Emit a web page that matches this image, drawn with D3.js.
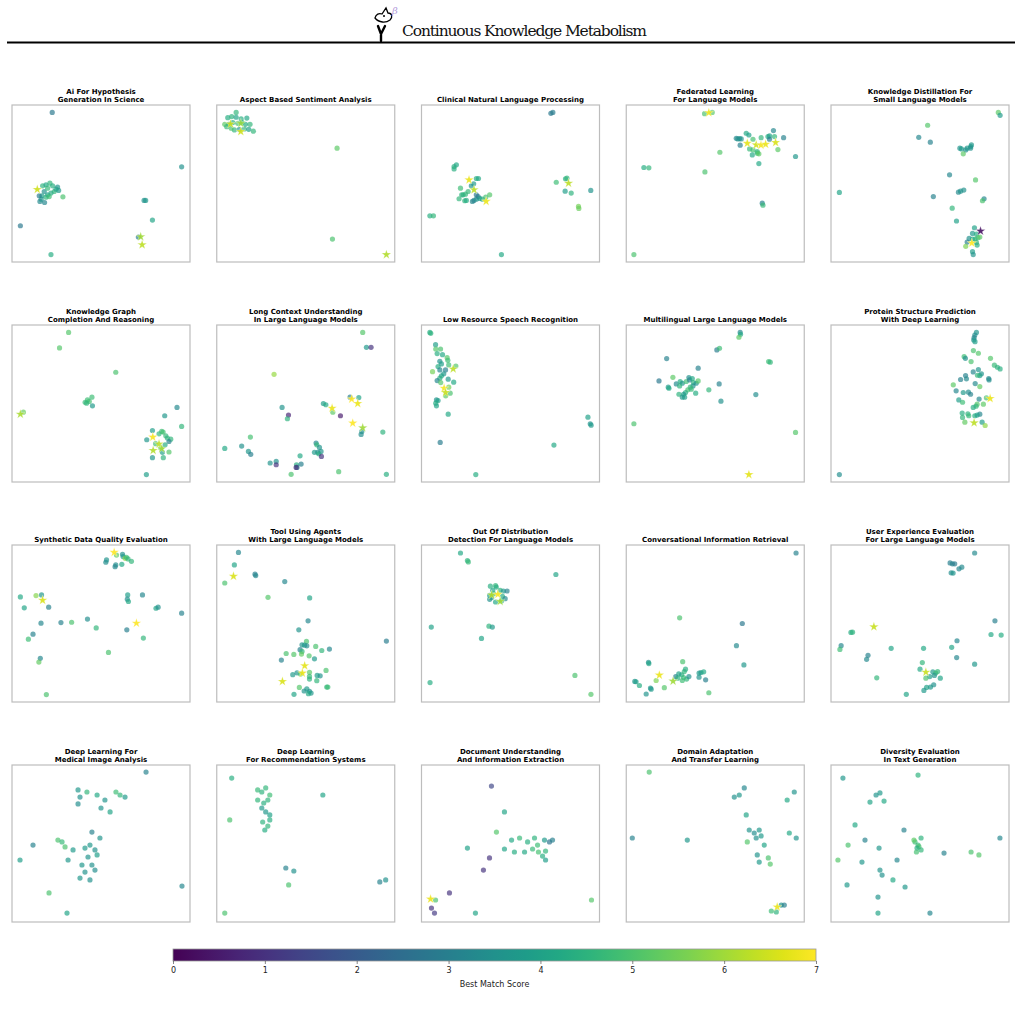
<!DOCTYPE html>
<html>
<head>
<meta charset="utf-8">
<script src="https://cdn.jsdelivr.net/npm/d3@7"></script>
<style>
  body { margin: 0; background: #fff; }
  svg { display: block; }
</style>
</head>
<body>
<div id="chart"></div>
<script>
// panel titles (row by row)
var titles = [
  "Ai For Hypothesis\nGeneration In Science",
  "Aspect Based Sentiment Analysis",
  "Clinical Natural Language Processing",
  "Federated Learning\nFor Language Models",
  "Knowledge Distillation For\nSmall Language Models",
  "Knowledge Graph\nCompletion And Reasoning",
  "Long Context Understanding\nIn Large Language Models",
  "Low Resource Speech Recognition",
  "Multilingual Large Language Models",
  "Protein Structure Prediction\nWith Deep Learning",
  "Synthetic Data Quality Evaluation",
  "Tool Using Agents\nWith Large Language Models",
  "Out Of Distribution\nDetection For Language Models",
  "Conversational Information Retrieval",
  "User Experience Evaluation\nFor Large Language Models",
  "Deep Learning For\nMedical Image Analysis",
  "Deep Learning\nFor Recommendation Systems",
  "Document Understanding\nAnd Information Extraction",
  "Domain Adaptation\nAnd Transfer Learning",
  "Diversity Evaluation\nIn Text Generation"
];

// points: [x, y, best match score, star flag]
var p01 = [[22.6,95.3,2.8],[95.3,60.6,3.5],[17.2,48.5,4.5],[19.1,49.2,4.2],[21.3,50.2,4.6],[22.8,48.5,4.4],[25.6,47.7,3.6],[26.2,45.6,3.8],[23.7,44.9,4.6],[21.9,43.9,4.3],[20.0,42.8,4.0],[18.1,44.9,3.5],[16.8,42.2,3.9],[19.1,41.3,4.5],[20.9,41.7,4.8],[15.3,42.2,2.9],[15.7,38.6,3.3],[18.3,37.9,3.2],[16.4,40.0,3.6],[28.6,41.5,5.0],[24.7,46.4,4.1],[20.0,47.0,4.7],[14.2,46.2,6.5,1],[74.2,39.2,3.5],[75.1,39.2,3.7],[78.9,26.7,4.1],[4.7,23.1,2.8],[71.0,15.9,3.0],[72.3,16.1,6.0,1],[73.1,11.0,6.3,1],[21.9,4.7,4.3]];
var p02 = [[10.9,95.3,4.6],[6.2,91.9,4.3],[8.4,92.6,4.5],[10.9,92.2,4.1],[13.7,91.1,4.4],[16.9,91.7,4.2],[18.7,87.7,4.6],[16.1,87.7,4.3],[14.2,88.8,4.8],[11.8,88.3,5.0],[9.0,88.8,4.4],[6.7,87.7,4.1],[4.5,87.7,5.2],[5.6,86.2,4.7],[9.9,84.1,4.6],[12.7,84.5,3.6],[15.5,84.7,4.5],[18.0,84.5,4.0],[20.6,83.3,4.6],[8.1,85.2,5.0],[7.7,87.9,6.4,1],[13.5,88.3,5.9,1],[13.5,83.1,6.5,1],[67.6,72.5,5.2],[65.0,14.6,5.0],[95.3,4.7,6.2,1]];
var p03 = [[72.7,94.7,2.8],[73.8,95.3,2.9],[18.3,60.8,4.4],[19.6,61.9,4.2],[18.3,59.3,4.4],[30.8,53.2,4.3],[32.0,53.2,4.2],[26.7,52.3,6.8,1],[29.3,49.8,3.8],[28.0,48.5,3.6],[21.9,47.0,4.8],[29.5,46.0,6.3,1],[23.4,42.8,4.4],[24.7,43.2,4.6],[22.6,42.8,4.5],[26.2,44.9,4.7],[21.1,40.3,4.6],[24.3,39.0,4.5],[25.2,39.2,4.3],[28.6,38.6,3.2],[29.5,39.2,3.1],[30.8,40.0,3.6],[31.8,41.7,2.9],[32.7,40.5,3.8],[34.2,40.0,4.3],[30.8,42.8,2.8],[36.1,41.3,4.9],[38.3,42.8,5.1],[36.3,38.6,6.8,1],[75.7,50.8,4.8],[80.9,53.0,4.4],[81.7,53.4,4.6],[82.6,50.2,6.3,1],[80.7,45.1,3.9],[84.1,43.9,4.5],[95.1,45.6,3.6],[88.2,35.4,5.5],[88.4,34.1,5.4],[4.7,29.4,4.4],[6.7,29.4,4.6],[44.9,4.7,4.2]];
var p04 = [[44.0,94.5,5.0],[46.4,95.1,6.8,1],[48.3,95.3,5.2],[61.8,78.8,3.3],[62.7,78.4,3.5],[63.7,78.6,3.4],[64.6,78.4,3.6],[67.4,82.0,4.2],[68.9,80.9,4.0],[64.0,74.4,3.0],[71.2,78.2,4.9],[75.8,79.2,4.6],[79.6,79.9,4.3],[80.5,80.3,4.0],[82.7,83.7,3.2],[83.3,79.9,4.6],[80.5,78.2,2.9],[88.4,79.2,3.1],[69.3,72.0,4.7],[71.2,71.4,4.9],[73.6,70.3,4.5],[73.6,69.3,4.8],[70.8,68.2,4.2],[74.5,68.9,5.2],[85.2,71.6,5.2],[68.0,75.6,6.7,1],[73.0,74.6,6.5,1],[75.7,74.4,6.9,1],[78.3,75.0,6.8,1],[83.9,76.1,6.6,1],[74.5,62.7,4.2],[95.1,67.2,3.7],[52.6,69.9,5.1],[9.9,60.2,4.3],[12.7,60.0,4.6],[44.2,57.4,5.0],[76.4,37.5,3.0],[76.8,36.2,4.7],[4.3,4.7,5.0]];
var p05 = [[94.0,95.3,5.2],[95.0,93.4,3.8],[54.3,87.1,5.1],[49.3,79.4,3.2],[55.8,76.3,3.1],[72.4,72.5,3.6],[73.3,72.0,3.8],[75.7,71.4,3.5],[76.5,72.5,3.7],[78.5,73.5,3.9],[78.9,74.6,3.7],[78.4,72.5,3.5],[74.3,68.9,5.2],[66.6,55.5,3.2],[81.2,52.3,5.1],[71.6,44.5,3.3],[72.8,45.1,3.6],[74.6,45.8,3.5],[57.5,41.7,3.1],[4.7,44.3,4.1],[86.0,40.3,3.2],[85.1,39.0,5.0],[68.1,34.3,4.6],[70.5,26.1,4.0],[80.6,21.8,4.0],[79.5,18.2,3.8],[81.7,17.8,4.3],[84.0,19.7,0.3,1],[77.6,15.0,3.5],[79.5,14.6,4.2],[81.0,14.6,4.5],[82.5,15.5,4.8],[83.6,15.9,5.2],[79.1,12.1,7.0,1],[76.5,12.7,3.0],[81.7,12.5,4.7],[82.1,10.8,4.4],[75.7,10.0,5.6],[79.5,6.6,3.9],[79.9,4.7,3.6]];
var p06 = [[31.8,95.3,5.1],[26.7,85.4,5.1],[58.3,69.9,5.0],[41.1,50.8,4.7],[42.4,52.3,4.8],[43.4,51.3,4.9],[44.9,54.0,4.8],[45.2,48.5,3.8],[41.9,50.2,4.6],[4.7,43.2,6.1,1],[6.4,44.5,5.4],[92.7,47.5,3.3],[85.8,42.2,3.7],[95.3,35.4,4.6],[78.9,32.8,3.9],[75.7,26.9,3.7],[82.6,30.7,4.6],[84.1,32.2,4.8],[84.9,31.8,4.9],[86.4,29.4,4.7],[87.3,28.0,4.5],[89.2,27.3,4.6],[88.2,25.8,3.1],[86.0,23.7,4.3],[80.7,24.4,4.9],[83.6,21.6,5.3],[84.5,18.9,4.0],[88.2,19.1,5.1],[78.9,15.5,3.7],[85.0,15.5,4.5],[79.1,28.6,6.9,1],[82.6,24.2,6.3,1],[79.3,20.1,6.2,1],[84.1,21.2,6.0,1],[75.5,4.7,3.9]];
var p07 = [[82.0,95.3,5.1],[84.1,85.8,3.8],[86.7,85.8,1.0],[32.2,68.6,5.9],[36.7,47.5,3.6],[40.3,42.6,0.7],[39.7,40.3,4.5],[59.9,50.0,3.9],[61.3,49.2,4.2],[64.8,47.0,6.8,1],[65.2,44.5,5.2],[69.5,42.2,0.5],[74.9,54.0,3.0],[75.8,52.8,7.0,1],[79.8,53.8,4.1],[79.2,50.0,6.8,1],[76.4,37.5,7.0,1],[82.0,34.5,6.0,1],[81.5,32.2,3.6],[81.1,30.3,3.4],[93.3,31.8,4.5],[18.9,28.6,4.9],[4.5,21.4,4.2],[14.0,22.9,3.5],[17.8,19.5,3.7],[19.1,17.6,3.0],[55.8,24.8,3.2],[56.2,23.7,4.6],[57.7,22.0,3.6],[58.6,19.5,3.6],[56.7,18.9,3.3],[54.9,18.9,3.8],[57.3,18.0,4.4],[58.8,16.3,1.0],[46.8,16.7,4.2],[30.0,12.1,3.6],[33.4,13.1,3.5],[33.4,11.0,1.0],[44.8,11.0,4.4],[45.1,9.3,2.8],[44.6,9.3,0.9],[47.4,11.4,3.0],[41.8,4.9,5.0],[68.5,6.6,5.0],[95.3,4.9,4.4]];
var p08 = [[4.7,95.3,4.3],[5.2,94.7,4.5],[7.9,87.5,3.9],[8.0,84.7,5.1],[10.7,84.7,5.0],[8.8,81.8,4.4],[11.8,81.1,4.2],[14.4,79.2,5.1],[14.8,77.5,4.8],[10.3,76.9,3.6],[11.2,75.2,3.9],[9.3,73.5,4.3],[15.3,74.6,4.8],[19.3,73.9,5.1],[6.2,70.3,5.5],[10.3,71.4,3.2],[13.5,71.4,3.0],[17.8,72.0,6.3,1],[12.5,68.9,3.7],[11.2,67.6,4.1],[10.3,66.1,4.4],[8.8,64.6,3.2],[10.8,63.3,5.1],[15.0,65.5,3.8],[18.1,63.6,4.2],[12.7,59.7,6.9,1],[15.3,60.4,5.5],[13.5,57.0,6.4,1],[13.6,54.9,5.3],[16.1,56.6,5.0],[8.4,52.3,3.6],[9.3,51.9,3.9],[8.0,50.2,4.3],[8.4,48.5,4.1],[15.0,43.2,4.2],[10.5,25.2,2.9],[93.5,41.3,4.0],[94.8,37.1,3.6],[95.3,36.2,3.8],[74.4,23.5,4.2],[30.5,4.7,4.3]];
var p09 = [[64.0,95.3,3.2],[64.2,94.1,4.2],[63.3,92.2,5.2],[50.9,84.1,2.9],[52.4,85.2,4.8],[22.7,78.6,3.1],[80.0,76.7,4.8],[80.9,76.3,4.6],[40.4,72.5,3.1],[18.4,64.4,2.8],[26.2,66.7,5.2],[23.6,60.4,3.8],[24.0,59.7,4.2],[28.1,62.5,3.3],[30.3,64.0,4.3],[31.5,62.9,3.7],[33.7,64.0,4.8],[35.2,66.5,3.5],[35.6,65.0,3.0],[37.1,65.9,4.2],[37.8,63.3,4.5],[39.3,62.9,3.6],[40.4,64.4,5.1],[37.5,61.2,3.5],[36.0,60.4,4.6],[34.6,58.7,4.9],[33.3,57.0,4.3],[32.2,55.9,3.8],[29.6,55.9,4.5],[31.5,54.0,3.7],[32.8,54.0,3.9],[39.0,56.6,4.3],[36.5,59.1,4.7],[30.0,61.2,4.5],[46.4,58.7,4.6],[52.2,62.5,3.1],[53.2,51.5,3.5],[72.8,55.7,3.4],[4.3,37.1,5.0],[95.1,31.6,5.1],[68.9,4.7,6.7,1]];
var p10 = [[81.7,95.3,3.6],[80.8,93.6,3.4],[80.4,91.9,3.2],[80.2,90.5,3.6],[80.9,89.4,3.9],[80.0,83.7,5.0],[82.8,82.0,5.1],[74.8,79.9,4.8],[75.5,78.8,3.5],[78.7,76.7,5.0],[89.6,78.8,5.1],[91.8,74.4,4.7],[93.5,73.1,4.5],[95.0,72.0,4.4],[82.8,71.6,3.6],[79.9,70.1,3.2],[84.5,68.9,3.6],[83.6,67.8,3.9],[82.3,68.0,4.6],[75.6,67.8,3.1],[72.8,65.3,3.1],[76.1,65.7,3.3],[81.0,62.7,3.3],[88.6,65.9,3.2],[88.8,65.0,3.4],[68.7,61.9,5.2],[83.6,60.8,5.3],[70.3,58.1,3.2],[74.3,57.0,3.8],[77.2,57.2,3.4],[78.4,55.9,3.1],[71.8,52.3,3.9],[73.9,50.8,4.8],[83.2,52.8,3.2],[87.3,53.6,5.0],[89.4,53.2,6.8,1],[82.1,49.6,5.1],[81.5,48.3,4.6],[79.9,47.5,4.3],[85.6,49.6,5.2],[73.7,43.9,4.4],[76.9,43.4,4.5],[77.4,42.2,4.7],[73.9,41.1,4.6],[80.8,42.2,4.3],[83.6,43.2,3.2],[82.1,42.6,4.0],[75.2,38.1,5.3],[80.4,37.7,6.3,1],[84.9,38.1,3.9],[86.6,36.0,5.8],[4.7,4.7,3.4]];
var p11 = [[57.4,95.3,7.0,1],[58.7,93.6,5.3],[62.1,94.1,3.5],[62.4,92.6,3.8],[63.6,91.5,5.8],[64.3,92.2,4.8],[65.2,91.1,4.6],[67.1,89.6,4.6],[53.1,90.5,3.6],[52.7,89.0,3.4],[58.3,87.3,3.4],[57.9,86.2,3.2],[61.7,87.7,4.2],[4.7,66.9,4.2],[6.9,60.0,4.1],[13.5,67.8,5.7],[16.6,68.2,3.7],[17.2,64.8,6.6,1],[20.6,60.4,3.1],[16.3,50.2,3.2],[27.5,50.6,3.1],[33.5,50.8,5.0],[42.4,52.8,3.4],[47.3,47.2,4.6],[65.0,68.2,3.9],[64.8,65.5,3.4],[65.4,64.0,4.2],[73.3,68.2,3.2],[80.9,59.7,4.1],[82.1,60.4,3.5],[95.3,56.6,3.1],[69.9,50.2,7.0,1],[64.5,46.0,3.0],[73.8,40.7,4.6],[11.8,43.2,3.1],[9.2,40.0,4.8],[15.9,27.8,3.2],[15.1,25.4,5.3],[54.2,31.6,5.0],[19.3,4.7,5.0]];
var p12 = [[12.2,95.3,3.2],[9.9,87.3,4.1],[9.4,80.1,6.6,1],[4.5,75.8,5.0],[21.5,81.4,3.0],[21.9,80.5,3.2],[38.2,76.7,3.2],[28.8,66.7,5.1],[52.2,66.3,4.1],[51.3,51.7,3.2],[46.1,46.0,3.6],[95.3,38.8,2.9],[50.4,38.6,5.0],[47.9,36.4,3.6],[49.3,36.2,3.8],[46.8,33.3,3.1],[47.9,32.2,4.6],[50.6,35.8,3.4],[55.6,35.4,5.0],[59.0,32.8,4.6],[63.3,33.7,3.2],[39.0,30.9,5.0],[43.3,30.3,5.1],[47.6,30.5,5.3],[51.9,29.4,5.1],[54.9,27.5,3.8],[36.3,26.7,3.1],[42.7,17.4,3.8],[45.1,18.6,3.6],[47.0,17.8,5.0],[52.1,18.9,5.2],[52.1,16.3,4.7],[52.1,14.6,4.5],[56.4,16.9,3.9],[58.1,16.7,3.6],[61.4,20.1,5.0],[56.2,13.6,4.6],[46.4,9.3,5.1],[49.1,7.0,3.6],[50.6,8.3,3.8],[52.1,6.8,3.5],[53.0,5.7,3.7],[51.5,5.3,4.2],[61.8,9.5,4.6],[62.4,9.5,4.8],[43.4,4.9,4.1],[49.4,23.1,6.7,1],[48.1,18.4,6.8,1],[36.9,13.1,6.6,1]];
var p13 = [[21.9,94.9,4.2],[25.8,90.1,4.5],[26.3,89.2,4.7],[75.5,81.2,4.1],[38.7,73.8,4.4],[41.6,74.1,4.6],[42.0,73.2,4.3],[40.0,71.1,4.1],[44.2,71.1,4.5],[46.0,70.7,3.8],[48.1,70.7,3.1],[38.3,67.9,4.0],[40.5,69.0,4.7],[45.5,67.3,4.4],[47.0,65.8,3.3],[38.3,65.4,3.5],[41.6,63.7,4.2],[44.9,64.3,4.6],[39.4,66.5,3.7],[39.4,68.1,6.2,1],[42.9,68.6,6.9,1],[44.2,64.1,6.0,1],[5.5,47.7,4.0],[37.9,48.3,4.5],[39.8,47.7,3.8],[33.7,40.5,4.1],[4.8,12.4,4.3],[86.2,16.9,5.0],[95.2,4.9,5.1]];
var p14 = [[95.4,94.9,3.1],[30.0,53.6,5.0],[65.2,50.0,2.8],[61.9,35.9,3.3],[66.1,23.6,3.7],[12.5,25.3,3.5],[12.7,24.5,4.1],[31.7,25.7,5.0],[4.8,13.1,3.7],[5.5,12.9,3.9],[7.4,10.5,4.3],[13.6,8.9,3.6],[14.0,8.2,3.8],[11.2,5.1,3.6],[21.4,9.1,5.1],[46.4,5.9,5.0],[44.6,14.1,3.0],[31.1,17.3,4.4],[32.6,19.4,4.6],[33.3,20.9,4.4],[27.8,16.2,3.1],[29.5,17.9,4.0],[32.2,15.6,4.7],[33.9,14.6,4.6],[35.2,16.2,3.5],[31.5,13.7,4.8],[28.9,15.2,4.5],[40.9,15.8,3.6],[42.0,18.8,4.0],[43.5,19.2,4.2],[40.9,18.4,3.8],[18.6,17.1,6.8,1],[16.8,13.7,5.6],[26.3,13.3,6.0,1]];
var p15 = [[80.7,94.9,3.3],[66.9,88.6,3.0],[68.2,88.0,3.1],[69.5,88.0,2.9],[73.5,85.9,3.3],[71.9,84.8,3.2],[67.5,82.3,3.4],[68.6,82.1,3.6],[92.1,51.7,3.0],[89.9,43.0,4.2],[95.6,42.6,4.3],[24.1,47.9,6.4,1],[11.2,44.3,4.3],[12.1,44.5,4.5],[5.7,35.9,3.2],[5.0,33.5,4.8],[33.8,34.2,4.1],[20.8,29.7,3.1],[20.0,27.2,3.3],[25.7,15.4,4.6],[52.0,34.2,4.2],[67.8,34.8,4.1],[70.8,39.0,3.2],[70.6,28.3,3.2],[80.7,24.1,3.7],[51.3,25.1,4.6],[50.0,20.9,4.2],[57.2,19.2,3.8],[58.8,18.4,4.8],[59.9,19.4,4.6],[58.1,16.9,3.6],[55.5,16.2,3.9],[53.3,15.2,5.0],[61.4,15.2,4.1],[57.7,11.0,3.5],[55.9,9.5,3.7],[53.7,9.3,4.0],[52.2,7.4,3.8],[42.3,4.9,4.1],[53.3,19.0,6.4,1]];
var p16 = [[75.3,95.5,3.1],[37.1,84.1,3.7],[38.2,79.6,3.5],[37.1,75.2,3.4],[42.1,82.8,4.6],[47.8,80.9,4.2],[52.2,77.7,3.6],[58.4,82.8,4.8],[60.7,80.9,4.6],[63.5,79.6,3.8],[50.0,72.6,3.6],[55.1,70.1,4.1],[44.9,57.3,3.1],[49.4,53.5,3.6],[43.8,49.0,3.7],[46.6,45.9,3.5],[41.0,47.1,3.8],[42.7,41.4,3.6],[47.8,42.7,3.9],[44.9,36.3,3.5],[39.3,36.3,3.7],[41.0,31.8,3.6],[46.6,33.1,3.4],[38.2,28.0,3.7],[43.8,26.8,3.5],[25.8,52.2,5.0],[28.1,51.0,4.7],[29.8,47.8,5.0],[34.3,45.9,3.8],[31.5,39.5,3.7],[11.8,49.0,3.1],[4.5,39.5,3.9],[20.8,18.5,5.0],[30.9,5.7,4.1],[95.5,22.9,3.2]];
var p17 = [[8.4,91.7,4.4],[23.0,84.1,4.7],[25.3,82.8,4.5],[27.5,85.4,4.6],[29.8,80.9,4.8],[23.0,77.7,4.6],[26.4,75.8,4.4],[28.7,77.7,4.5],[25.3,72.6,3.8],[27.5,70.1,3.7],[29.8,68.2,4.0],[25.8,63.7,4.5],[28.7,61.1,4.6],[29.8,65.0,4.4],[27.0,58.6,4.3],[59.6,80.9,4.1],[7.3,65.0,5.0],[38.8,34.4,3.1],[43.3,32.5,3.5],[40.4,23.6,5.0],[91.6,25.5,3.1],[94.9,26.8,3.5],[4.5,5.7,5.0]];
var p18 = [[39.3,86.6,1.5],[46.6,70.1,4.1],[42.1,57.3,5.1],[50.6,52.2,4.2],[55.1,53.5,4.7],[59.6,51.0,4.4],[63.5,53.5,4.5],[65.2,49.0,4.8],[69.1,52.2,3.8],[71.9,51.0,2.6],[73.6,52.2,3.0],[62.4,46.5,4.7],[65.7,44.6,4.9],[68.0,42.0,4.4],[69.7,45.2,4.6],[46.6,46.5,4.1],[52.2,44.6,4.3],[57.9,44.6,4.2],[38.2,40.8,1.0],[34.8,33.1,1.0],[69.7,39.5,3.9],[25.8,47.1,4.0],[15.7,18.5,1.0],[7.9,14.0,5.0],[5.6,8.9,1.0],[7.3,5.7,1.2],[5.1,14.6,6.8,1],[30.3,5.7,4.1],[95.5,14.0,5.1]];
var p19 = [[12.9,95.5,5.0],[60.7,79.6,3.5],[63.5,80.9,3.7],[66.3,85.4,3.2],[94.4,82.8,3.6],[90.4,77.7,4.2],[67.4,68.2,4.1],[69.1,58.6,3.6],[71.9,56.7,3.4],[74.7,58.6,3.7],[73.0,53.5,3.5],[75.8,54.8,3.8],[68.0,51.0,5.1],[77.5,49.0,4.1],[73.6,42.7,3.6],[74.7,38.2,3.8],[79.8,40.8,5.0],[80.9,36.9,5.1],[91.6,56.7,4.2],[95.5,53.5,3.6],[34.3,52.2,3.7],[3.4,53.5,3.1],[84.8,9.6,6.8,1],[87.1,10.8,3.6],[84.3,6.4,4.5],[81.5,7.0,4.8],[88.8,10.8,3.0]];
var p20 = [[6.7,91.7,3.7],[48.9,93.6,4.5],[25.3,80.9,3.6],[27.5,82.2,3.8],[21.9,76.4,4.1],[29.8,77.0,4.2],[13.5,61.8,4.2],[9.6,49.0,5.0],[3.9,39.5,5.1],[19.1,52.2,3.1],[27.0,47.1,3.7],[41.0,58.6,3.1],[47.2,51.0,4.8],[48.9,49.0,4.7],[49.4,48.0,5.0],[48.3,47.1,4.4],[50.6,45.9,4.6],[48.0,44.6,4.9],[46.6,52.2,5.2],[50.6,53.5,4.5],[63.5,43.9,3.1],[78.7,44.6,5.0],[83.1,42.7,5.1],[94.9,53.5,3.2],[17.4,38.2,3.7],[27.5,33.1,3.6],[28.7,29.9,3.5],[37.1,39.5,3.2],[9.0,23.6,3.8],[34.8,26.8,4.2],[41.6,22.3,3.7],[26.4,15.9,3.6],[26.4,5.7,4.1],[55.6,5.7,3.2]];

var panels = [p01,p02,p03,p04,p05,p06,p07,p08,p09,p10,p11,p12,p13,p14,p15,p16,p17,p18,p19,p20];
var cbTicks = [0, 1, 2, 3, 4, 5, 6, 7];

var W = 1022, H = 1022;
var svg = d3.select("#chart").append("svg")
    .attr("width", W)
    .attr("height", H)
    .style("font-family", "'DejaVu Sans', sans-serif");

// header: little bird logo + title
var logo = svg.append("g").attr("transform", "translate(373,4)");
logo.append("path")
    .attr("d", "M5,22 L8,30 L8,37 M8,30 L12,22")
    .attr("fill", "none").attr("stroke", "#000").attr("stroke-width", 2.4)
    .attr("stroke-linecap", "round");
logo.append("path")
    .attr("d", "M2,14 C3,10 6,9 9,10 L13,4 L15,9 C19,9 20,13 17,16 C13,19 6,19 2,14 Z")
    .attr("fill", "none").attr("stroke", "#000").attr("stroke-width", 1.3);
logo.append("circle").attr("cx", 11).attr("cy", 12).attr("r", 1).attr("fill", "#000");
logo.append("text")
    .attr("x", 19).attr("y", 10)
    .style("font-family", "'DejaVu Serif', serif")
    .style("font-style", "italic")
    .style("font-size", "10px")
    .attr("fill", "#b39ddb")
    .text("β");

svg.append("text")
    .attr("x", 402)
    .attr("y", 36)
    .style("font-family", "'DejaVu Serif', serif")
    .style("font-size", "15.5px")
    .attr("textLength", 245)
    .attr("fill", "#111")
    .text("Continuous Knowledge Metabolism");

svg.append("line")
    .attr("x1", 7).attr("x2", 1015)
    .attr("y1", 42.5).attr("y2", 42.5)
    .attr("stroke", "#000").attr("stroke-width", 2);

// grid of panels
var colScale = d3.scaleLinear().domain([0, 4]).range([12, 831]);
var rowScale = d3.scaleLinear().domain([0, 3]).range([105, 765]);
var pw = 178, ph = 157;

var color = function(s) { return d3.interpolateViridis(s / 7); };
var star = d3.symbol().type(d3.symbolStar).size(28);

panels.forEach(function(data, i) {
  var left = colScale(i % 5), top = rowScale(Math.floor(i / 5));
  var x = d3.scaleLinear().domain([0, 100]).range([left, left + pw]);
  var y = d3.scaleLinear().domain([0, 100]).range([top + ph, top]);
  var g = svg.append("g");

  g.append("rect")
      .attr("x", left).attr("y", top)
      .attr("width", pw).attr("height", ph)
      .attr("fill", "none").attr("stroke", "#bdbdbd").attr("stroke-width", 1.2);

  var lines = titles[i].split("\n");
  var t = g.append("text")
      .attr("text-anchor", "middle")
      .style("font-size", "7px")
      .style("font-weight", "bold")
      .attr("fill", "#000");
  lines.forEach(function(l, k) {
    t.append("tspan")
        .attr("x", left + pw / 2)
        .attr("y", top - 3 - (lines.length - 1 - k) * 8)
        .text(l);
  });

  g.selectAll("circle.pt")
    .data(data.filter(function(d) { return !d[3]; }))
    .enter()
    .append("circle")
      .attr("class", "pt")
      .attr("cx", function(d) { return x(d[0]); })
      .attr("cy", function(d) { return y(d[1]); })
      .attr("r", 2.6)
      .attr("fill", function(d) { return color(d[2]); })
      .style("opacity", 0.68);

  g.selectAll("path.star")
    .data(data.filter(function(d) { return d[3]; }))
    .enter()
    .append("path")
      .attr("class", "star")
      .attr("d", star)
      .attr("transform", function(d) { return "translate(" + x(d[0]) + "," + y(d[1]) + ")"; })
      .attr("fill", function(d) { return color(d[2]); })
      .attr("stroke", "#fff").attr("stroke-width", 0.3)
      .style("opacity", 0.9);
});

// colorbar
var cb = d3.scaleLinear().domain([0, 7]).range([173, 816]);
var grad = svg.append("defs").append("linearGradient").attr("id", "vir");
d3.range(0, 1.0001, 0.05).forEach(function(o) {
  grad.append("stop").attr("offset", o).attr("stop-color", d3.interpolateViridis(o));
});
svg.append("rect")
    .attr("x", cb(0)).attr("y", 949)
    .attr("width", cb(7) - cb(0)).attr("height", 12)
    .attr("fill", "url(#vir)")
    .attr("stroke", "#999").attr("stroke-width", 0.8);

var cbAxis = svg.append("g")
    .attr("transform", "translate(0,961)")
    .call(d3.axisBottom(cb).tickValues(cbTicks).tickSize(3).tickFormat(d3.format("d")));
cbAxis.select(".domain").remove();
cbAxis.selectAll(".tick line").attr("stroke", "#333").attr("stroke-width", 0.6);
cbAxis.selectAll(".tick text")
    .style("font-family", "'DejaVu Sans', sans-serif")
    .style("font-size", "8px")
    .attr("fill", "#222");

svg.append("text")
    .attr("x", (cb(0) + cb(7)) / 2)
    .attr("y", 987)
    .attr("text-anchor", "middle")
    .style("font-size", "8px")
    .attr("fill", "#222")
    .text("Best Match Score");
</script>
</body>
</html>
